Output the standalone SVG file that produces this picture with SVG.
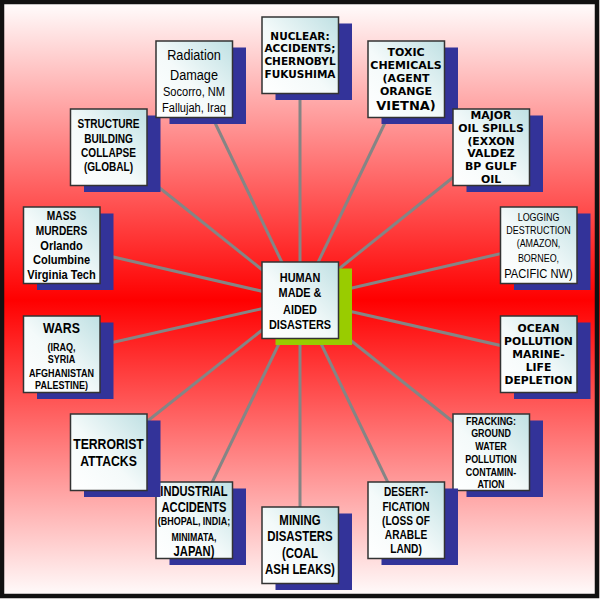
<svg xmlns="http://www.w3.org/2000/svg" width="600" height="600" viewBox="0 0 600 600">
<defs>
<linearGradient id="bg" x1="0" y1="0" x2="0" y2="1">
<stop offset="0" stop-color="#ffffff"/>
<stop offset="0.5" stop-color="#ff0000"/>
<stop offset="1" stop-color="#ffffff"/>
</linearGradient>
<linearGradient id="boxfill" x1="0" y1="1" x2="1" y2="0">
<stop offset="0" stop-color="#ffffff"/>
<stop offset="0.45" stop-color="#f4fafa"/>
<stop offset="1" stop-color="#bfe0e3"/>
</linearGradient>
<style>
.shadow{fill:#333399}
.gshadow{fill:#99cc00}
.box{fill:url(#boxfill);stroke:#333333;stroke-width:1.5}
.conn line{stroke:#858585;stroke-width:3}
text{text-anchor:middle;fill:#000}
.w{font-family:"DejaVu Sans","Liberation Sans",sans-serif;font-weight:bold}
.n{font-family:"Liberation Sans",Arial,sans-serif}
.nb{font-family:"Liberation Sans",Arial,sans-serif;font-weight:bold}
</style>
</defs>
<rect x="0" y="0" width="600" height="600" fill="url(#bg)"/>
<rect x="2" y="2" width="595" height="594" fill="none" stroke="#111" stroke-width="4.5"/>

<g id="connectors" class="conn">
<line x1="300" y1="300" x2="300" y2="55"/>
<line x1="300" y1="300" x2="406" y2="79"/>
<line x1="300" y1="300" x2="491" y2="147"/>
<line x1="300" y1="300" x2="538" y2="245"/>
<line x1="300" y1="300" x2="538" y2="354"/>
<line x1="300" y1="300" x2="491" y2="452"/>
<line x1="300" y1="300" x2="406" y2="520"/>
<line x1="300" y1="300" x2="300" y2="545"/>
<line x1="300" y1="300" x2="194" y2="520"/>
<line x1="300" y1="300" x2="108.5" y2="452"/>
<line x1="300" y1="300" x2="61.5" y2="354"/>
<line x1="300" y1="300" x2="61.5" y2="245"/>
<line x1="300" y1="300" x2="108.5" y2="147"/>
<line x1="300" y1="300" x2="194" y2="79"/>
</g>

<g id="center">
<rect class="gshadow" x="275.5" y="268.5" width="76.5" height="76.5"/>
<rect class="box" x="262" y="262" width="76.5" height="76.5"/>
<text class="nb" font-size="13.6" transform="translate(300 0) scale(0.8 1)"><tspan x="0" y="281.6">HUMAN</tspan><tspan x="0" y="296.6">MADE &amp;</tspan><tspan x="0" y="313.9">AIDED</tspan><tspan x="0" y="329.2">DISASTERS</tspan></text>
</g>

<g id="nuclear">
<rect class="shadow" x="275.5" y="23.5" width="76.5" height="76.5"/>
<rect class="box" x="262" y="17" width="76.5" height="76.5"/>
<text class="w" font-size="10.5"><tspan x="300" y="39.5">NUCLEAR:</tspan><tspan x="300" y="52.1">ACCIDENTS;</tspan><tspan x="300" y="65.1">CHERNOBYL</tspan><tspan x="300" y="77.8">FUKUSHIMA</tspan></text>
</g>

<g id="toxic">
<rect class="shadow" x="381.5" y="47.5" width="76.5" height="76.5"/>
<rect class="box" x="368" y="41" width="76.5" height="76.5"/>
<text class="w" font-size="11"><tspan x="406" y="55.7">TOXIC</tspan><tspan x="406" y="69">CHEMICALS</tspan><tspan x="406" y="81.7">(AGENT</tspan><tspan x="406" y="94.7">ORANGE</tspan><tspan x="406" y="109.7" font-size="13">VIETNA)</tspan></text>
</g>

<g id="oil">
<rect class="shadow" x="466.5" y="115.5" width="76.5" height="76.5"/>
<rect class="box" x="453" y="109" width="76.5" height="76.5"/>
<text class="w" font-size="10.9"><tspan x="491" y="119">MAJOR</tspan><tspan x="491" y="131.7">OIL SPILLS</tspan><tspan x="491" y="145">(EXXON</tspan><tspan x="491" y="157.3">VALDEZ</tspan><tspan x="491" y="170.3">BP GULF</tspan><tspan x="491" y="183.3">OIL</tspan></text>
</g>

<g id="logging">
<rect class="shadow" x="514" y="213.5" width="76.5" height="76.5"/>
<rect class="box" x="500.5" y="207" width="76.5" height="76.5"/>
<text class="n" font-size="10.9" transform="translate(538.5 0) scale(0.82 1)"><tspan x="0" y="220.6">LOGGING</tspan><tspan x="0" y="234">DESTRUCTION</tspan><tspan x="0" y="247.3">(AMAZON,</tspan><tspan x="0" y="261.6">BORNEO,</tspan><tspan x="0" y="277.6" font-size="13.6">PACIFIC NW)</tspan></text>
</g>

<g id="ocean">
<rect class="shadow" x="514" y="322.5" width="76.5" height="76.5"/>
<rect class="box" x="500.5" y="316" width="76.5" height="76.5"/>
<text class="w" font-size="10.8"><tspan x="538.5" y="332.3">OCEAN</tspan><tspan x="538.5" y="345">POLLUTION</tspan><tspan x="538.5" y="358.3">MARINE-</tspan><tspan x="538.5" y="371">LIFE</tspan><tspan x="538.5" y="384">DEPLETION</tspan></text>
</g>

<g id="fracking">
<rect class="shadow" x="466.5" y="420.5" width="76.5" height="76.5"/>
<rect class="box" x="453" y="414" width="76.5" height="76.5"/>
<text class="nb" font-size="10.9" transform="translate(491 0) scale(0.82 1)"><tspan x="0" y="424.6">FRACKING:</tspan><tspan x="0" y="437.2">GROUND</tspan><tspan x="0" y="449.9">WATER</tspan><tspan x="0" y="462.9">POLLUTION</tspan><tspan x="0" y="475.9">CONTAMIN-</tspan><tspan x="0" y="488.2">ATION</tspan></text>
</g>

<g id="desertification">
<rect class="shadow" x="381.5" y="488.5" width="76.5" height="76.5"/>
<rect class="box" x="368" y="482" width="76.5" height="76.5"/>
<text class="nb" font-size="12.4" transform="translate(406 0) scale(0.82 1)"><tspan x="0" y="496.2">DESERT-</tspan><tspan x="0" y="511.2">FICATION</tspan><tspan x="0" y="525.2">(LOSS OF</tspan><tspan x="0" y="539.5">ARABLE</tspan><tspan x="0" y="553.5">LAND)</tspan></text>
</g>

<g id="mining">
<rect class="shadow" x="275.5" y="513.5" width="76.5" height="76.5"/>
<rect class="box" x="262" y="507" width="76.5" height="76.5"/>
<text class="nb" font-size="14.3" transform="translate(300 0) scale(0.8 1)"><tspan x="0" y="525.1">MINING</tspan><tspan x="0" y="541.1">DISASTERS</tspan><tspan x="0" y="557.8">(COAL</tspan><tspan x="0" y="574.4">ASH LEAKS)</tspan></text>
</g>

<g id="industrial">
<rect class="shadow" x="169.5" y="488.5" width="76.5" height="76.5"/>
<rect class="box" x="156" y="482" width="76.5" height="76.5"/>
<text class="nb" font-size="13.9" transform="translate(194 0) scale(0.8 1)"><tspan x="0" y="495.7">INDUSTRIAL</tspan><tspan x="0" y="511.7">ACCIDENTS</tspan><tspan x="0" y="525" font-size="11.2">(BHOPAL, INDIA;</tspan><tspan x="0" y="540.7" font-size="11">MINIMATA,</tspan><tspan x="0" y="555.7" font-size="14">JAPAN)</tspan></text>
</g>

<g id="terrorist">
<rect class="shadow" x="84" y="420.5" width="76.5" height="76.5"/>
<rect class="box" x="70.5" y="414" width="76.5" height="76.5"/>
<text class="nb" font-size="15.3" transform="translate(108.5 0) scale(0.8 1)"><tspan x="0" y="448.8">TERRORIST</tspan><tspan x="0" y="466.5">ATTACKS</tspan></text>
</g>

<g id="wars">
<rect class="shadow" x="37" y="322.5" width="76.5" height="76.5"/>
<rect class="box" x="23.5" y="316" width="76.5" height="76.5"/>
<text class="nb" font-size="11" transform="translate(61.5 0) scale(0.82 1)"><tspan x="0" y="332.7" font-size="15">WARS</tspan><tspan x="0" y="350.7">(IRAQ,</tspan><tspan x="0" y="363.3">SYRIA</tspan><tspan x="0" y="376.7">AFGHANISTAN</tspan><tspan x="0" y="389">PALESTINE)</tspan></text>
</g>

<g id="mass-murders">
<rect class="shadow" x="37" y="213.5" width="76.5" height="76.5"/>
<rect class="box" x="23.5" y="207" width="76.5" height="76.5"/>
<text class="nb" font-size="12.4" transform="translate(61.5 0) scale(0.82 1)"><tspan x="0" y="220.5">MASS</tspan><tspan x="0" y="235.2">MURDERS</tspan><tspan x="0" y="249.9" font-size="13.5">Orlando</tspan><tspan x="0" y="264.2" font-size="13.5">Columbine</tspan><tspan x="0" y="278.9" font-size="13.5">Virginia Tech</tspan></text>
</g>

<g id="structure">
<rect class="shadow" x="84" y="115.5" width="76.5" height="76.5"/>
<rect class="box" x="70.5" y="109" width="76.5" height="76.5"/>
<text class="nb" font-size="12.3" transform="translate(108.5 0) scale(0.82 1)"><tspan x="0" y="128.4">STRUCTURE</tspan><tspan x="0" y="142.7">BUILDING</tspan><tspan x="0" y="157.1">COLLAPSE</tspan><tspan x="0" y="171.1">(GLOBAL)</tspan></text>
</g>

<g id="radiation">
<rect class="shadow" x="169.5" y="47.5" width="76.5" height="76.5"/>
<rect class="box" x="156" y="41" width="76.5" height="76.5"/>
<text class="n" transform="translate(194 0) scale(0.82 1)"><tspan x="0" y="59.9" font-size="15.5">Radiation</tspan><tspan x="0" y="79.6" font-size="15.5">Damage</tspan><tspan x="0" y="95.6" font-size="13.5">Socorro, NM</tspan><tspan x="0" y="111.6" font-size="13.5">Fallujah, Iraq</tspan></text>
</g>
</svg>
